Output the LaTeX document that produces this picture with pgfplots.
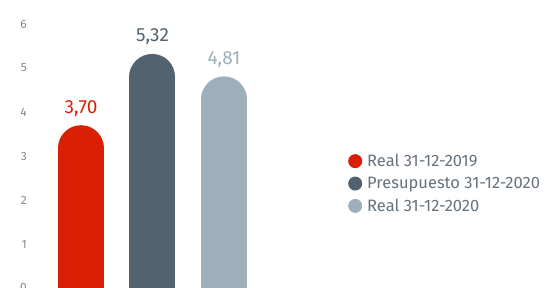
\documentclass[border=0pt]{standalone}
\usepackage{pgfplots}
\pgfplotsset{compat=1.18}
\usepackage{fontspec}
\setmainfont{Fira Sans}
\definecolor{cRed}{HTML}{D92005}
\definecolor{cDark}{HTML}{52626E}
\definecolor{cLight}{HTML}{9DAFBA}
\definecolor{cTick}{HTML}{7F8A93}
\definecolor{cLeg}{HTML}{66727C}
\begin{document}
\begin{tikzpicture}
\begin{axis}[
  scale only axis,
  width=516pt, height=264pt,
  xmin=0.357, xmax=7.573,
  ymin=0, ymax=6,
  ytick={0,1,2,3,4,5,6},
  xtick=\empty,
  axis line style={draw=none},
  major tick length=0pt,
  /pgf/number format/assume math mode=true,
  yticklabel style={anchor=east, inner sep=0pt, xshift=-8pt, text=cTick, font=\fontsize{12}{14}\selectfont},
  nodes near coords={\pgfmathprintnumber[fixed, fixed zerofill, precision=2, use comma, assume math mode=true]{\pgfplotspointmeta}},
  nodes near coords style={anchor=base, inner sep=0pt, yshift=35pt, font=\fontsize{19}{22}\selectfont},
  legend style={at={(rel axis cs:0.6066,0.515)}, anchor=north west, draw=none, fill=none,
    font=\fontsize{16.5}{19}\selectfont, row sep=5pt, inner sep=0pt, text=cLeg,
    nodes={inner sep=2pt}},
  legend cell align=left,
  legend image code/.code={\path[draw=none, fill=none] (0pt,23pt) -- (17pt,23pt);\fill[draw=none, line width=0pt] (7pt,23pt) circle (7pt);},
]
\addplot[ycomb, mark=none, color=cRed, line width=46pt, line cap=round, yshift=-23pt,
  every node near coord/.append style={text=cRed}] coordinates {(1,3.70)};
\addlegendentry{Real 31-12-2019}
\addplot[ycomb, mark=none, color=cDark, line width=46pt, line cap=round, yshift=-23pt,
  every node near coord/.append style={text=cDark}] coordinates {(2,5.32)};
\addlegendentry{Presupuesto 31-12-2020}
\addplot[ycomb, mark=none, color=cLight, line width=46pt, line cap=round, yshift=-23pt,
  every node near coord/.append style={text=cLight}] coordinates {(3,4.81)};
\addlegendentry{Real 31-12-2020}
\coordinate (O) at (rel axis cs:0,0);
\end{axis}
\pgfresetboundingbox
\path[use as bounding box] ([xshift=-35pt,yshift=0pt]O) rectangle ([xshift=516pt,yshift=288pt]O);
\end{tikzpicture}
\end{document}
